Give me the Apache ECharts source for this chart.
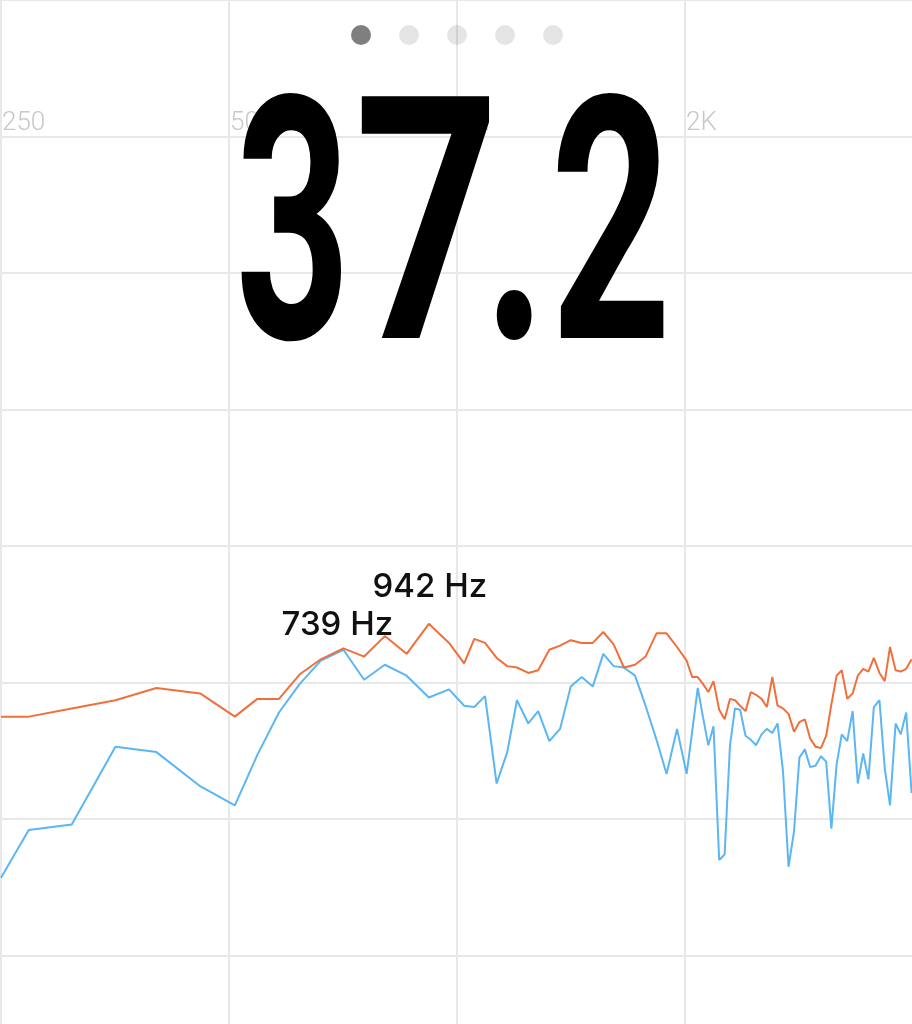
<!DOCTYPE html>
<html>
<head>
<meta charset="utf-8">
<style>
  html, body { margin: 0; padding: 0; background: #ffffff; }
  #chart { width: 912px; height: 1024px; }
</style>
<script src="https://cdn.jsdelivr.net/npm/echarts@6/dist/echarts.min.js"></script>
</head>
<body>
<div id="chart"></div>
<script>
// ---- data ----
const tickLabels = ['250', '500', '1K', '2K', '4K'];   // octave grid lines
const baseFreq = 250;                                 // Hz at the left edge
const freqs = [250, 272, 310, 354, 401, 458, 509, 545, 582, 620, 661, 708, 754, 803, 858, 918, 976,
  1022, 1054, 1089, 1128, 1165, 1200, 1242, 1280, 1324, 1368, 1413, 1461, 1511, 1560, 1610, 1661, 1718,
  1774, 1834, 1891, 1952,
  2010, 2044, 2079, 2112, 2147, 2181, 2219, 2256, 2293, 2328, 2365, 2404, 2443, 2482, 2524, 2565, 2608,
  2650, 2694, 2740, 2786, 2832, 2879, 2926, 2974, 3024, 3072, 3121, 3171, 3221, 3275, 3329, 3382, 3438,
  3493, 3551, 3612, 3671, 3730, 3794, 3854, 3918, 3983];
const peakHold = [47.5, 47.5, 48.1, 48.7, 49.6, 49.2, 47.5, 48.8, 48.8, 50.6, 51.7, 52.5, 51.9, 53.4, 52.1, 54.3, 52.9,
  51.4, 53.2, 52.9, 51.8, 51.2, 51.1, 50.7, 50.9, 52.4, 52.7, 53.1, 52.9, 52.9, 53.7, 52.8, 51.1, 51.3,
  51.9, 53.6, 53.6, 52.6,
  51.6, 50.4, 50.4, 49.9, 49.3, 50.1, 48.0, 47.3, 48.8, 48.7, 48.3, 47.9, 49.3, 49.1, 48.8, 48.2, 50.4,
  48.3, 48.1, 47.7, 46.4, 47.1, 47.3, 45.9, 45.3, 45.2, 46.1, 48.4, 50.5, 50.9, 48.8, 49.2, 50.5, 51.0,
  50.8, 51.8, 50.7, 50.1, 52.6, 50.9, 50.8, 51.0, 51.7];
const current = [35.7, 39.2, 39.6, 45.3, 44.9, 42.4, 41.0, 44.7, 47.8, 49.9, 51.6, 52.4, 50.2, 51.3, 50.5, 48.9, 49.5,
  48.3, 48.2, 49.0, 42.6, 44.9, 48.7, 47.0, 47.9, 45.7, 46.6, 49.7, 50.4, 49.7, 52.1, 51.2, 51.1, 50.5,
  48.3, 45.8, 43.3, 46.6,
  43.3, 46.4, 49.6, 47.5, 45.4, 46.8, 37.0, 37.4, 45.4, 48.1, 48.0, 46.1, 45.8, 45.4, 46.2, 46.6, 46.3,
  47.0, 43.5, 36.5, 39.1, 44.5, 45.1, 43.8, 43.9, 44.6, 44.2, 39.3, 44.0, 46.2, 45.7, 47.9, 42.6, 44.8,
  42.9, 48.2, 48.7, 43.7, 41.0, 47.0, 46.2, 47.8, 41.9];
const peakLabels = ['739 Hz', '942 Hz'];
const peakFreqs = [708, 918];          // bins where the labels sit
const levelText = '37.2';
const pageDots = 5;

// ---- build ----
const oct = f => Math.log2(f / baseFreq);
const curData = freqs.map((f, i) => [oct(f), current[i]]);
const peakData = freqs.map((f, i) => [oct(f), peakHold[i]]);
const i0 = freqs.indexOf(peakFreqs[0]);
const i1 = freqs.indexOf(peakFreqs[1]);

const labelFont = { fontFamily: 'Inter', fontWeight: 500, fontSize: 33, color: '#111111' };

const graphics = [];
for (let k = 0; k < pageDots; k++) {
  graphics.push({
    type: 'circle', z: 100,
    shape: { cx: 361 + k * 48, cy: 35, r: 10 },
    style: { fill: k === 0 ? 'rgba(0,0,0,0.5)' : 'rgba(0,0,0,0.1)' }
  });
}
// big condensed readout, one glyph per element so each can be narrowed like the display face
const glyphX = [293, 427, 515, 611];
const glyphScale = [0.59, 0.745, 0.64, 0.62];
levelText.split('').forEach((ch, k) => {
  graphics.push({
    type: 'text', z: 100, x: glyphX[k], y: 253, scaleX: glyphScale[k],
    style: {
      text: ch, fill: '#000000',
      font: 'bold 340px Roboto',
      textAlign: 'center', textVerticalAlign: 'middle'
    }
  });
});

const chart = echarts.init(document.getElementById('chart'), null, { renderer: 'canvas' });
chart.setOption({
  animation: false,
  backgroundColor: '#ffffff',
  grid: { left: 1, top: 0, width: 912, height: 1092, containLabel: false, outerBoundsMode: 'none' },
  xAxis: {
    type: 'value', min: 0, max: 4, interval: 1,
    position: 'top', offset: -136.5,
    axisLine: { show: false }, axisTick: { show: false },
    axisLabel: {
      show: true, align: 'left', margin: 0, padding: [0, 0, 0, 1],
      fontFamily: 'Roboto', fontWeight: 300, fontSize: 26, color: '#c8c8c8',
      formatter: v => tickLabels[Math.round(v)]
    },
    splitLine: { show: true, lineStyle: { color: '#e8e8e8', width: 2 } }
  },
  yAxis: {
    type: 'value', min: 20, max: 100, interval: 10,
    axisLine: { show: false }, axisTick: { show: false }, axisLabel: { show: false },
    splitLine: { show: true, lineStyle: { color: '#e8e8e8', width: 2 } }
  },
  series: [
    {
      name: 'current', type: 'line', data: curData, symbol: 'none',
      lineStyle: { color: '#5bb6f4', width: 2 }, z: 3,
      markPoint: {
        symbol: 'circle', symbolSize: 0, silent: true,
        label: Object.assign({ show: true, position: 'top', distance: 8, offset: [-6, 0], formatter: p => p.name }, labelFont),
        data: [{ name: peakLabels[0], coord: curData[i0] }]
      }
    },
    {
      name: 'peak', type: 'line', data: peakData, symbol: 'none',
      lineStyle: { color: '#f0703c', width: 2 }, z: 4,
      markPoint: {
        symbol: 'circle', symbolSize: 0, silent: true,
        label: Object.assign({ show: true, position: 'top', distance: 20, offset: [1, 0], formatter: p => p.name }, labelFont),
        data: [{ name: peakLabels[1], coord: peakData[i1] }]
      }
    }
  ],
  graphic: graphics
});
</script>
</body>
</html>
